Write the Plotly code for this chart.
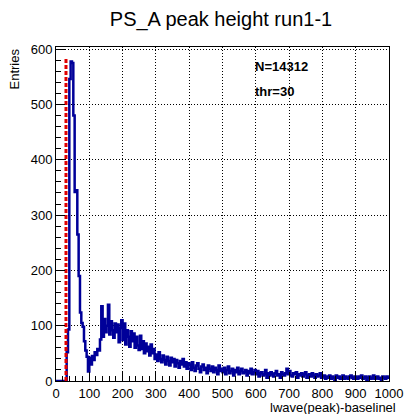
import numpy as np
import plotly.graph_objects as go

# ---- data ----
title_text = "PS_A peak height run1-1"
x_title = "lwave(peak)-baselinel"
y_title = "Entries"
n_entries = 14312
thr = 30
bin_width = 4          # histogram bin width (x units)
x_range = [0, 1000]
y_range = [0, 604]

# counts per bin, bins [0,4), [4,8), ...
counts_below_thr = [0, 0, 0, 0, 0, 0, 0, 0]                       # 0-32
counts_peak = [52, 93, 546, 578, 575, 480, 342, 345, 265, 190, 124, 105,
               98, 72, 55, 44, 17]                                  # 32-100
counts_rise = [42, 30, 45, 38, 52, 47, 58, 55, 75, 135, 80, 112, 88, 100,
               138, 84, 108, 92, 78, 104]                           # 100-180
counts_bump = [88, 102, 70, 96, 110, 74, 104, 66, 92, 80, 62, 90, 72, 86,
               60, 80, 64, 56, 82, 58, 72, 50, 68, 54, 62, 46, 66, 50,
               58, 40]                                              # 180-300
counts_300_400 = [48, 36, 52, 40, 34, 46, 38, 30, 44, 36, 28, 42, 34, 40,
                  26, 38, 32, 24, 36, 30, 40, 26, 34, 22, 32]
counts_400_500 = [30, 20, 34, 24, 18, 28, 32, 22, 16, 26, 30, 20, 24, 14,
                  28, 22, 18, 26, 16, 24, 20, 12, 28, 18, 22]
counts_500_600 = [16, 24, 12, 20, 26, 14, 18, 22, 10, 20, 16, 24, 12, 18,
                  22, 14, 16, 20, 10, 18, 14, 22, 12, 16, 20]
counts_600_700 = [12, 18, 8, 14, 16, 10, 12, 20, 6, 14, 10, 16, 12, 8, 14,
                  18, 10, 12, 6, 16, 12, 10, 14, 22, 12]
counts_700_800 = [18, 10, 8, 14, 12, 16, 6, 12, 10, 14, 8, 12, 16, 6, 10,
                  12, 8, 14, 10, 6, 12, 8, 10, 14, 6]
counts_800_1000 = [8, 10, 4, 8, 6, 10, 4, 8, 6, 2, 10, 6, 8, 4, 6, 10, 4, 8,
                   6, 4, 8, 10, 6, 4, 8, 6, 4, 8, 6, 10, 4, 6, 8, 2, 6, 8,
                   4, 6, 10, 4, 6, 8, 4, 6, 2, 8, 6, 4, 8, 6]

counts = (counts_below_thr + counts_peak + counts_rise + counts_bump +
          counts_300_400 + counts_400_500 + counts_500_600 + counts_600_700 +
          counts_700_800 + counts_800_1000)

edges = x_range[0] + np.arange(len(counts) + 1) * bin_width
y_steps = counts + [counts[-1]]

fig = go.Figure()
fig.add_trace(go.Scatter(
    x=edges, y=y_steps, mode="lines", line_shape="hv",
    line=dict(color="#000099", width=2.5), hoverinfo="skip"))

thr_top = max(counts) * 1.01
fig.add_trace(go.Scatter(
    x=[thr, thr], y=[0, thr_top], mode="lines",
    line=dict(color="#e00000", width=3, dash="4px,2px"), hoverinfo="skip"))

font_family = "Liberation Sans, Arial, Helvetica, sans-serif"
axis_common = dict(
    ticks="inside", ticklen=9, tickwidth=1, tickcolor="black",
    showline=True, linecolor="black", linewidth=1, mirror=True,
    showgrid=True, gridcolor="black", gridwidth=1, griddash="1px,2px",
    zeroline=False, tickmode="linear", tick0=0, dtick=100,
    tickfont=dict(family=font_family, size=13, color="black"),
    minor=dict(dtick=20, ticks="inside", ticklen=5, tickcolor="black",
               showgrid=False),
)

fig.update_layout(
    width=415, height=414,
    margin=dict(l=56, r=18, t=47, b=33),
    paper_bgcolor="white", plot_bgcolor="white",
    showlegend=False,
    font=dict(family=font_family, size=13, color="black"),
    title=dict(text=title_text, x=221 / 415, xanchor="center",
               y=1 - 18.5 / 414, yanchor="middle", yref="container",
               font=dict(family=font_family, size=20, color="black")),
    xaxis=dict(range=x_range, ticklabelstandoff=0, **axis_common),
    yaxis=dict(range=y_range, **axis_common),
)

fig.add_annotation(text=y_title, textangle=-90, xref="paper", yref="paper",
                   x=(13 - 56) / 341, y=1.0, xanchor="center", yanchor="top",
                   showarrow=False, font=dict(family=font_family, size=13))
fig.add_annotation(text=x_title, xref="paper", yref="paper",
                   x=(406 - 56) / 341, y=(381 - 407) / 334,
                   xanchor="right", yanchor="middle", showarrow=False,
                   font=dict(family=font_family, size=13))
fig.add_annotation(text=f"<b>N={n_entries}</b>", xref="x", yref="y",
                   x=592, y=569, xanchor="left", yanchor="middle",
                   showarrow=False, font=dict(family=font_family, size=13))
fig.add_annotation(text=f"<b>thr={thr}</b>", xref="x", yref="y",
                   x=592, y=524, xanchor="left", yanchor="middle",
                   showarrow=False, font=dict(family=font_family, size=13))

fig.write_html("out.html",
               config={"displayModeBar": False, "staticPlot": True},
               post_script="document.body.style.margin='0';"
                           "document.body.style.overflow='hidden';")
